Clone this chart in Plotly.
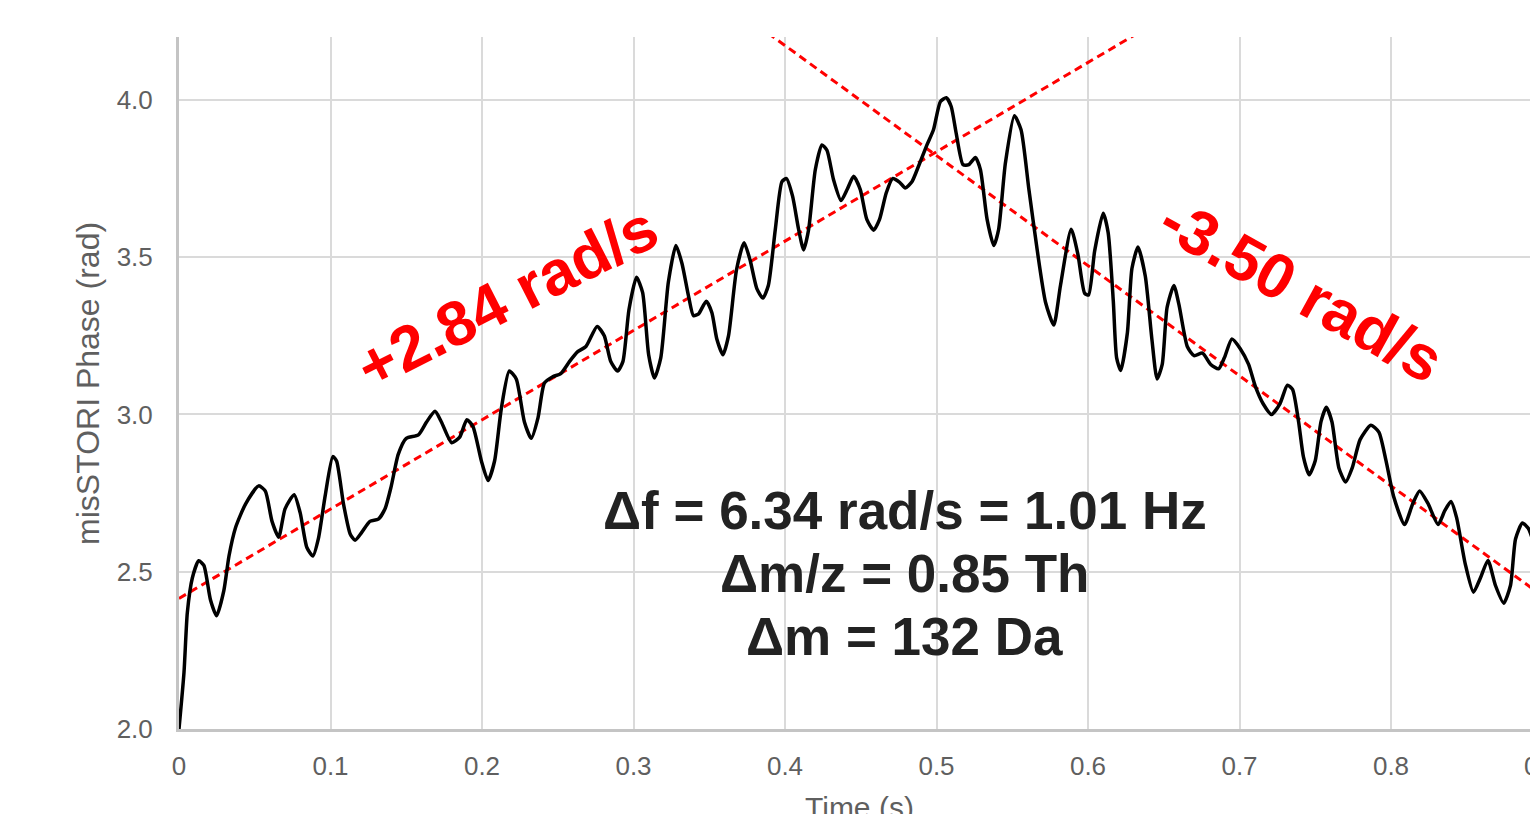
import plotly.graph_objects as go

# ---- data ----
time_s = [0.000, 0.0033, 0.0055, 0.0088, 0.013, 0.0164, 0.0208, 0.0248, 0.0296, 0.033,
          0.0373, 0.0439, 0.0526, 0.057, 0.0614, 0.0658, 0.070, 0.076, 0.080, 0.0844,
          0.0884, 0.092, 0.0965, 0.1015, 0.104, 0.1086, 0.113, 0.1162, 0.1206, 0.126,
          0.1316, 0.136, 0.140, 0.1447, 0.150, 0.158, 0.1634, 0.169, 0.1732, 0.180,
          0.1853, 0.190, 0.194, 0.1996, 0.204, 0.2083, 0.2127, 0.218, 0.2226, 0.228,
          0.2325, 0.237, 0.2412, 0.2467, 0.252, 0.2577, 0.263, 0.2686, 0.276, 0.2807,
          0.285, 0.2895, 0.293, 0.297, 0.302, 0.306, 0.310, 0.3138, 0.318, 0.323,
          0.328, 0.332, 0.3363, 0.3396, 0.343, 0.348, 0.3517, 0.355, 0.359, 0.3627,
          0.368, 0.373, 0.377, 0.3814, 0.3854, 0.389, 0.3936, 0.398, 0.401, 0.405,
          0.409, 0.4123, 0.4156, 0.420, 0.4244, 0.4277, 0.432, 0.437, 0.441, 0.4453,
          0.4497, 0.454, 0.4585, 0.4624, 0.4668, 0.471, 0.4757, 0.4794, 0.4838, 0.4882,
          0.4937, 0.498, 0.5026, 0.5065, 0.5097, 0.513, 0.5175, 0.5213, 0.5257, 0.529,
          0.5334, 0.5378, 0.541, 0.5455, 0.5514, 0.5558, 0.561, 0.5664, 0.572, 0.5774,
          0.5818, 0.5889, 0.5933, 0.5978, 0.6004, 0.6044, 0.610, 0.6133, 0.6167, 0.6189,
          0.6216, 0.626, 0.629, 0.633, 0.6378, 0.6422, 0.6456, 0.649, 0.6522, 0.6567,
          0.660, 0.6656, 0.670, 0.6756, 0.681, 0.6862, 0.690, 0.695, 0.7004, 0.706,
          0.7104, 0.7156, 0.7211, 0.7267, 0.7316, 0.735, 0.739, 0.7422, 0.746, 0.750,
          0.7538, 0.7573, 0.761, 0.7656, 0.770, 0.7744, 0.7796, 0.7867, 0.792, 0.7967,
          0.8017, 0.8089, 0.8144, 0.8189, 0.8244, 0.8311, 0.8356, 0.8396, 0.8433, 0.849,
          0.8544, 0.859, 0.864, 0.8689, 0.8744, 0.8789, 0.8822, 0.8867, 0.8906, 0.895]
phase_rad = [2.00, 2.18, 2.37, 2.48, 2.535, 2.52, 2.41, 2.36, 2.44, 2.55,
             2.64, 2.715, 2.773, 2.756, 2.66, 2.61, 2.70, 2.745, 2.687, 2.577,
             2.55, 2.605, 2.742, 2.866, 2.852, 2.715, 2.62, 2.60, 2.625, 2.66,
             2.667, 2.70, 2.77, 2.873, 2.924, 2.935, 2.976, 3.01, 2.976, 2.91,
             2.928, 2.983, 2.962, 2.852, 2.79, 2.852, 3.017, 3.138, 3.113, 2.976,
             2.924, 2.99, 3.10, 3.12, 3.13, 3.168, 3.199, 3.216, 3.28, 3.25,
             3.168, 3.138, 3.168, 3.333, 3.436, 3.388, 3.19, 3.116, 3.18, 3.42,
             3.537, 3.48, 3.377, 3.314, 3.32, 3.36, 3.324, 3.24, 3.19, 3.25,
             3.46, 3.546, 3.49, 3.40, 3.37, 3.41, 3.588, 3.74, 3.75, 3.694,
             3.588, 3.523, 3.588, 3.778, 3.857, 3.84, 3.747, 3.68, 3.715, 3.757,
             3.715, 3.62, 3.586, 3.62, 3.704, 3.75, 3.738, 3.72, 3.74, 3.79,
             3.857, 3.905, 3.995, 4.007, 3.979, 3.894, 3.794, 3.794, 3.817, 3.778,
             3.62, 3.537, 3.588, 3.80, 3.95, 3.905, 3.715, 3.525, 3.356, 3.284,
             3.409, 3.589, 3.51, 3.385, 3.38, 3.52, 3.64, 3.578, 3.36, 3.18,
             3.14, 3.26, 3.464, 3.532, 3.44, 3.238, 3.113, 3.159, 3.34, 3.41,
             3.35, 3.215, 3.187, 3.195, 3.159, 3.145, 3.18, 3.24, 3.21, 3.159,
             3.09, 3.034, 3.00, 3.034, 3.093, 3.08, 2.977, 2.865, 2.808, 2.853,
             2.977, 3.023, 2.977, 2.83, 2.785, 2.83, 2.92, 2.966, 2.944, 2.853,
             2.74, 2.65, 2.717, 2.757, 2.717, 2.65, 2.695, 2.723, 2.672, 2.525,
             2.435, 2.48, 2.536, 2.457, 2.40, 2.457, 2.604, 2.655, 2.638, 2.58]

# linear fits (slope in rad/s, intercept in rad)
fit_slopes = [2.84, -3.50]
fit_intercepts = [2.415, 5.573]
fit_t_span = [0.0, 0.9]
fit_labels = ["+2.84 rad/s", "-3.50 rad/s"]
fit_label_t = [0.2165, 0.7413]
fit_label_v = [3.374, 3.396]
fit_label_angle = [-27, 29]

info_lines = ["\u0394f = 6.34 rad/s = 1.01 Hz", "\u0394m/z = 0.85 Th", "\u0394m = 132 Da"]
info_t = 0.479
info_v = [2.696, 2.493, 2.293]

x_ticks = [0, 0.1, 0.2, 0.3, 0.4, 0.5, 0.6, 0.7, 0.8]
x_tick_text = ["0", "0.1", "0.2", "0.3", "0.4", "0.5", "0.6", "0.7", "0.8"]
y_ticks = [2.0, 2.5, 3.0, 3.5, 4.0]
y_tick_text = ["2.0", "2.5", "3.0", "3.5", "4.0"]
x_range = [0, 0.89175]
y_range = [2.0, 4.2]

FONT = "Liberation Sans, Arial, sans-serif"
TICK_COLOR = "#5f5f5f"

fig = go.Figure()

for s, b in zip(fit_slopes, fit_intercepts):
    fig.add_trace(go.Scatter(
        x=fit_t_span, y=[b + s * t for t in fit_t_span], mode="lines",
        line=dict(color="#ff0000", width=3, dash="8px,5px"),
        hoverinfo="skip", showlegend=False))

fig.add_trace(go.Scatter(
    x=time_s, y=phase_rad, mode="lines",
    line=dict(color="black", width=3.5, shape="spline", smoothing=0.6),
    showlegend=False))

annotations = []
for lab, t, v, ang in zip(fit_labels, fit_label_t, fit_label_v, fit_label_angle):
    annotations.append(dict(x=t, y=v, xref="x", yref="y", text="<b>%s</b>" % lab,
                            showarrow=False, textangle=ang, xanchor="center", yanchor="middle",
                            font=dict(family=FONT, size=63, color="#ff0000")))
for line, v in zip(info_lines, info_v):
    annotations.append(dict(x=info_t, y=v, xref="x", yref="y", text="<b>%s</b>" % line,
                            showarrow=False, xanchor="center", yanchor="middle",
                            font=dict(family=FONT, size=53, color="#222222")))
# axis titles
annotations.append(dict(x=-0.0674, y=0.5, xref="paper", yref="paper",
                        text="misSTORI Phase (rad)", textangle=-90, showarrow=False,
                        xanchor="center", yanchor="middle",
                        font=dict(family=FONT, size=32, color=TICK_COLOR)))
annotations.append(dict(x=0.504, y=-0.087, xref="paper", yref="paper",
                        text="Time (s)", showarrow=False, xanchor="center", yanchor="top",
                        font=dict(family=FONT, size=30, color=TICK_COLOR)))
# partially visible last tick label (0.9) at the cropped right edge
annotations.append(dict(x=0.9 / x_range[1], y=-0.0535, xref="paper", yref="paper",
                        text="0.9", showarrow=False, xanchor="center", yanchor="middle",
                        font=dict(family=FONT, size=26, color=TICK_COLOR)))

fig.update_layout(
    width=1530, height=814,
    margin=dict(l=179, r=0, t=37, b=85),
    paper_bgcolor="white", plot_bgcolor="white",
    font=dict(family=FONT),
    annotations=annotations,
    xaxis=dict(range=x_range, tickvals=x_ticks, ticktext=x_tick_text,
               showgrid=True, gridcolor="#dadada", gridwidth=2,
               showline=True, linecolor="#c4c4c4", linewidth=3,
               zeroline=False, ticks="", ticklabelstandoff=12,
               tickfont=dict(family=FONT, size=26, color=TICK_COLOR)),
    yaxis=dict(range=y_range, tickvals=y_ticks, ticktext=y_tick_text,
               showgrid=True, gridcolor="#dadada", gridwidth=2,
               showline=True, linecolor="#c4c4c4", linewidth=3,
               zeroline=False, ticks="", ticklabelstandoff=18,
               tickfont=dict(family=FONT, size=26, color=TICK_COLOR)),
)

fig.write_html("out.html")
